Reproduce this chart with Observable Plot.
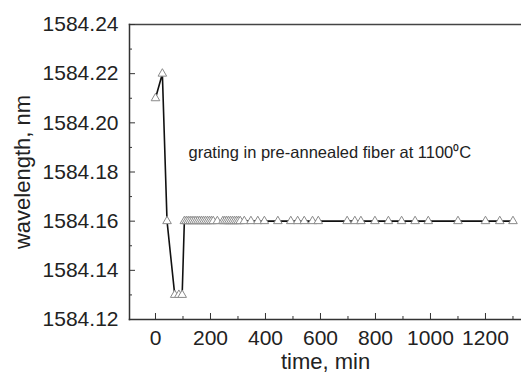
<!DOCTYPE html>
<html><head><meta charset="utf-8">
<script src="https://cdn.jsdelivr.net/npm/d3@7"></script>
<script src="https://cdn.jsdelivr.net/npm/@observablehq/plot@0.6"></script>
<style>body{margin:0;background:#fff;overflow:hidden}</style>
</head><body><div id="chart"></div>
<script>
const times = [0, 25, 42, 70, 85, 97, 105, 112, 119, 126, 133, 140, 147, 154, 161, 168, 175, 182, 189, 196, 203, 210, 225,
  245, 252, 259, 266, 273, 280, 287, 294, 301, 308, 323, 347, 372, 396, 445, 492, 517, 541, 571, 592,
  697, 725, 747, 798, 847, 895, 944, 992, 1100, 1200, 1252, 1300];
const wavelengths = [1584.21, 1584.22, 1584.16, 1584.13, 1584.13, 1584.13].concat(Array(times.length - 6).fill(1584.16));
const xMajorTicks = [0, 200, 400, 600, 800, 1000, 1200];
const xMinorTicks = [100, 300, 500, 700, 900, 1100, 1300];
const yMajorTicks = [1584.12, 1584.14, 1584.16, 1584.18, 1584.20, 1584.22, 1584.24];
const yMinorTicks = [1584.13, 1584.15, 1584.17, 1584.19, 1584.21, 1584.23];
const xDomain = [-94.5, 1331];
const yDomain = [1584.12, 1584.24];
const xTitle = "time, min";
const yTitle = "wavelength, nm";
const annotation = [{time: 120, wavelength: 1584.188, text: "grating in pre-annealed fiber at 1100\u2070C"}];

const data = times.map((t, i) => ({time: t, wavelength: wavelengths[i]}));
const font = "'Liberation Sans', Arial, Helvetica, sans-serif";
const blank = () => "";

const plot = Plot.plot({
  width: 521, height: 376,
  marginLeft: 129, marginRight: 0, marginTop: 24, marginBottom: 57,
  style: {fontFamily: font, background: "#fff", color: "#222"},
  x: {domain: xDomain},
  y: {domain: yDomain},
  marks: [
    Plot.frame({anchor: "left", stroke: "#333", strokeWidth: 1.5}),
    Plot.frame({anchor: "top", stroke: "#444", strokeWidth: 1.5}),
    Plot.frame({anchor: "bottom", stroke: "#333", strokeWidth: 1.5}),
    Plot.axisX({ticks: xMajorTicks, tickSize: 6, dy: -6, tickFormat: blank, label: null, stroke: "#333"}),
    Plot.axisX({ticks: xMinorTicks, tickSize: 3, dy: -3, tickFormat: blank, label: null, stroke: "#333"}),
    Plot.axisX({ticks: xMajorTicks, tickSize: 0, tickPadding: 11, tickFormat: d => String(d), label: null, fontSize: 21, fill: "#222"}),
    Plot.axisY({ticks: yMajorTicks, tickSize: 6, dx: 6, tickFormat: blank, label: null, stroke: "#333"}),
    Plot.axisY({ticks: yMinorTicks, tickSize: 3, dx: 3, tickFormat: blank, label: null, stroke: "#333"}),
    Plot.axisY({ticks: yMajorTicks, tickSize: 0, tickPadding: 11, tickFormat: d => d.toFixed(2), label: null, fontSize: 21, fill: "#222"}),
    Plot.text([xTitle], {frameAnchor: "bottom", lineAnchor: "middle", textAnchor: "middle", dy: 42, fontSize: 22, fill: "#222"}),
    Plot.text([yTitle], {frameAnchor: "left", lineAnchor: "middle", textAnchor: "middle", dx: -107, rotate: -90, fontSize: 22, fill: "#222"}),
    Plot.line(data, {x: "time", y: "wavelength", stroke: "#111", strokeWidth: 1.6}),
    Plot.dot(data, {x: "time", y: "wavelength", symbol: "triangle", r: 3.2, fill: "white", stroke: "#8a8a8a", strokeWidth: 1}),
    Plot.text(annotation, {x: "time", y: "wavelength", text: "text", textAnchor: "start", fontSize: 16.5, fill: "#222"})
  ]
});
document.getElementById("chart").appendChild(plot);
</script>
</body></html>
